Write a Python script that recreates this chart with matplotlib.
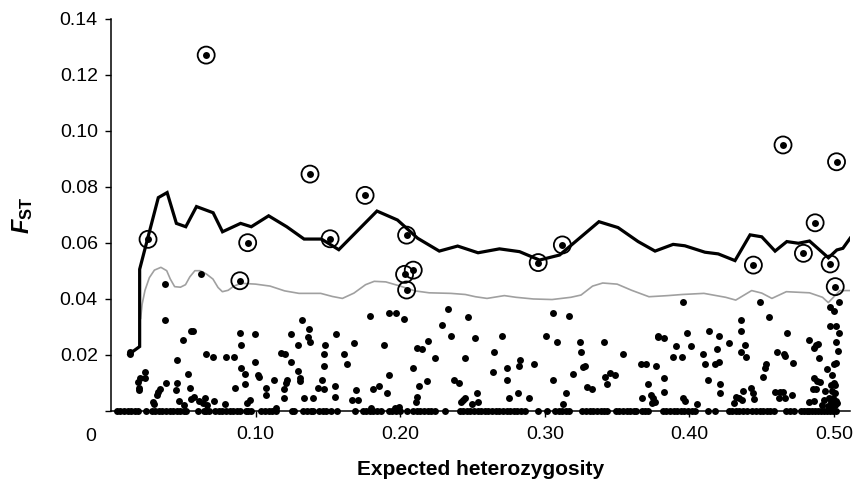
import matplotlib
matplotlib.use("Agg")
import matplotlib.pyplot as plt
from matplotlib.transforms import blended_transform_factory

plt.rcParams['font.family'] = ['Liberation Sans', 'DejaVu Sans']
plt.rcParams['mathtext.fontset'] = 'custom'
plt.rcParams['mathtext.it'] = 'Liberation Sans:italic:bold'
plt.rcParams['mathtext.rm'] = 'Liberation Sans:bold'

# ---- data ----
zero_x = [0.004, 0.0065, 0.009, 0.0115, 0.014, 0.0165, 0.019, 0.0245,
          0.028, 0.0305, 0.033, 0.0355, 0.038, 0.0405, 0.043, 0.0455, 0.048, 0.0505, 0.052,
          0.0604, 0.064, 0.066, 0.068,
          0.072, 0.0745, 0.077, 0.0795, 0.082, 0.0845, 0.087, 0.089,
          0.093, 0.095, 0.097, 0.104, 0.1065, 0.109, 0.1115, 0.114, 0.125, 0.1265,
          0.133, 0.1355, 0.138, 0.140, 0.144, 0.1465, 0.149, 0.152, 0.156, 0.169,
          0.174, 0.1765, 0.179, 0.1815, 0.184, 0.1865, 0.192, 0.1945, 0.197, 0.1995, 0.205,
          0.209, 0.2115, 0.214, 0.2165, 0.219, 0.2215, 0.224, 0.231,
          0.241, 0.2435, 0.246, 0.2485, 0.251, 0.2535, 0.256, 0.2585, 0.261, 0.2635, 0.266,
          0.2685, 0.271, 0.2735, 0.276, 0.2785, 0.281, 0.2835, 0.286, 0.295, 0.3015,
          0.307, 0.3095, 0.312, 0.3145, 0.317,
          0.326, 0.3285, 0.331, 0.3335, 0.336, 0.3385, 0.341, 0.343,
          0.349, 0.3515, 0.354, 0.3565, 0.359, 0.3615, 0.363, 0.367, 0.369, 0.371, 0.3817,
          0.384, 0.3865, 0.389, 0.3915, 0.394, 0.3965, 0.399, 0.4015, 0.404, 0.413, 0.418,
          0.427, 0.4295, 0.432, 0.4345, 0.437, 0.440,
          0.443, 0.446, 0.4485, 0.451, 0.4535, 0.456, 0.4585, 0.467, 0.4695, 0.472,
          0.477, 0.479, 0.481, 0.483, 0.485, 0.487, 0.489, 0.491, 0.493, 0.495, 0.497, 0.499, 0.501]

snp_x = [0.0371, 0.0619, 0.0371, 0.0555, 0.0570, 0.0498, 0.0129, 0.0131, 0.0457, 0.0656,
         0.0702, 0.0794, 0.0850, 0.0891, 0.0900, 0.0997, 0.0997, 0.0900, 0.0928, 0.0924,
         0.1018, 0.1020, 0.1071, 0.1071, 0.1127, 0.1177, 0.1201, 0.1247, 0.1247, 0.1219,
         0.1210, 0.1196, 0.1196, 0.0198, 0.0189, 0.0235, 0.0235, 0.0193, 0.0193, 0.0383,
         0.0337, 0.0328, 0.0318, 0.0290, 0.0300, 0.0457, 0.0448, 0.0471, 0.0503, 0.0531,
         0.0545, 0.0554, 0.0572, 0.0607, 0.0633, 0.0651, 0.0665, 0.0711, 0.0785, 0.0859,
         0.0942, 0.0960, 0.1140,
         0.1323, 0.1369, 0.1365, 0.1378, 0.1291, 0.1291, 0.1305, 0.1305, 0.1480, 0.1471,
         0.1471, 0.1462, 0.1430, 0.1471, 0.1337, 0.1397, 0.1559, 0.1550, 0.1550, 0.1610,
         0.1633, 0.1683, 0.1697, 0.1665, 0.1707, 0.1790, 0.1919, 0.1970, 0.2026, 0.1887,
         0.1855, 0.1813, 0.1905, 0.1919, 0.2085, 0.2118, 0.2150, 0.2192, 0.2182, 0.2127,
         0.2118, 0.2109, 0.2243, 0.2289, 0.2331, 0.2353, 0.2469, 0.2515, 0.2450, 0.2372,
         0.2404, 0.2529, 0.2432, 0.2450, 0.2423, 0.2497, 0.1965, 0.1990, 0.1800,
         0.2702, 0.2647, 0.2638, 0.2735, 0.2735, 0.2827, 0.2818, 0.2924, 0.2813, 0.2753,
         0.2892, 0.2541, 0.3058, 0.3169, 0.3007, 0.3081, 0.3058, 0.3146, 0.3123, 0.3243,
         0.3252, 0.3266, 0.3275, 0.3197, 0.3294, 0.3326, 0.3409, 0.3419, 0.3450, 0.3483,
         0.3428, 0.3543, 0.3668, 0.3696, 0.3779, 0.3783, 0.3821, 0.3769, 0.3714, 0.3821,
         0.3672, 0.3737, 0.3751, 0.3760, 0.3741, 0.3821,
         0.3956, 0.4488, 0.5037, 0.4973, 0.4996, 0.4548, 0.4358, 0.4358, 0.3980, 0.4137,
         0.4202, 0.3906, 0.4012, 0.4275, 0.4192, 0.4382, 0.4358, 0.4391, 0.3888, 0.3947,
         0.4096, 0.4106, 0.4178, 0.4202, 0.4127, 0.4211, 0.4211, 0.3956, 0.3966, 0.4053,
         0.4322, 0.4345, 0.4363, 0.4308, 0.4372, 0.4423, 0.4442, 0.4446, 0.4529, 0.4525,
         0.4511, 0.4604, 0.4654, 0.4659, 0.4677, 0.4718, 0.4590, 0.4627, 0.4645, 0.4618,
         0.4659, 0.4710, 0.4825, 0.4872, 0.4890, 0.4858, 0.4899, 0.4954, 0.4996, 0.5015,
         0.4987, 0.5015, 0.4973, 0.5037, 0.5015, 0.5029, 0.4858, 0.4881, 0.4855, 0.4872,
         0.4904, 0.4982, 0.4996, 0.5006, 0.4936, 0.4987, 0.5006, 0.4930, 0.4966, 0.4994,
         0.5010, 0.5020, 0.4980, 0.4826, 0.4858, 0.4918, 0.4955, 0.4980, 0.5003]

snp_y = [0.0454, 0.0487, 0.0324, 0.0285, 0.0285, 0.0251, 0.0209, 0.0201, 0.0180, 0.0203,
         0.0193, 0.0193, 0.0193, 0.0279, 0.0235, 0.0273, 0.0175, 0.0154, 0.0132, 0.0094,
         0.0127, 0.0120, 0.0082, 0.0056, 0.0110, 0.0207, 0.0201, 0.0273, 0.0175, 0.0110,
         0.0098, 0.0078, 0.0044, 0.0116, 0.0104, 0.0137, 0.0116, 0.0082, 0.0075, 0.0099,
         0.0078, 0.0068, 0.0056, 0.0032, 0.0023, 0.0099, 0.0073, 0.0035, 0.0020, 0.0132,
         0.0082, 0.0042, 0.0049, 0.0035, 0.0027, 0.0044, 0.0020, 0.0035, 0.0023, 0.0082,
         0.0026, 0.0038, 0.0011,
         0.0324, 0.0291, 0.0262, 0.0246, 0.0235, 0.0142, 0.0116, 0.0106, 0.0235, 0.0203,
         0.0160, 0.0110, 0.0082, 0.0078, 0.0044, 0.0044, 0.0274, 0.0088, 0.0050, 0.0203,
         0.0166, 0.0241, 0.0073, 0.0038, 0.0038, 0.0339, 0.0350, 0.0350, 0.0327, 0.0235,
         0.0089, 0.0078, 0.0062, 0.0128, 0.0154, 0.0225, 0.0219, 0.0250, 0.0106, 0.0089,
         0.0049, 0.0032, 0.0187, 0.0306, 0.0362, 0.0268, 0.0334, 0.0259, 0.0187, 0.0110,
         0.0100, 0.0062, 0.0038, 0.0044, 0.0032, 0.0023, 0.0009, 0.0014, 0.0010,
         0.0268, 0.0208, 0.0137, 0.0154, 0.0110, 0.0181, 0.0160, 0.0166, 0.0062, 0.0044,
         0.0044, 0.0030, 0.0350, 0.0339, 0.0268, 0.0246, 0.0110, 0.0062, 0.0024, 0.0246,
         0.0208, 0.0157, 0.0161, 0.0132, 0.0085, 0.0078, 0.0246, 0.0121, 0.0133, 0.0128,
         0.0094, 0.0201, 0.0166, 0.0166, 0.0268, 0.0263, 0.0259, 0.0160, 0.0094, 0.0116,
         0.0044, 0.0056, 0.0044, 0.0032, 0.0027, 0.0066,
         0.0387, 0.0387, 0.0387, 0.0371, 0.0356, 0.0334, 0.0323, 0.0285, 0.0279, 0.0285,
         0.0268, 0.0230, 0.0230, 0.0241, 0.0219, 0.0235, 0.0208, 0.0193, 0.0193, 0.0193,
         0.0203, 0.0166, 0.0166, 0.0173, 0.0110, 0.0094, 0.0062, 0.0044, 0.0035, 0.0023,
         0.0050, 0.0044, 0.0038, 0.0026, 0.0070, 0.0082, 0.0062, 0.0042, 0.0166, 0.0151,
         0.0121, 0.0208, 0.0204, 0.0196, 0.0279, 0.0170, 0.0068, 0.0068, 0.0068, 0.0046,
         0.0044, 0.0056, 0.0251, 0.0235, 0.0237, 0.0225, 0.0187, 0.0149, 0.0168, 0.0170,
         0.0128, 0.0302, 0.0302, 0.0279, 0.0246, 0.0213, 0.0116, 0.0106, 0.0078, 0.0078,
         0.0101, 0.0092, 0.0098, 0.0092, 0.0070, 0.0070, 0.0062, 0.0038, 0.0044, 0.0044,
         0.0035, 0.0028, 0.0030, 0.0030, 0.0035, 0.0020, 0.0017, 0.0012, 0.0020]

outlier_x = [0.0256, 0.0658, 0.0891, 0.0945, 0.1376, 0.1515, 0.1757, 0.2044, 0.2030, 0.2090,
             0.2044, 0.2954, 0.3121, 0.4442, 0.4647, 0.4788, 0.4869, 0.4973, 0.5017, 0.5008]
outlier_y = [0.0612, 0.1270, 0.0464, 0.0600, 0.0845, 0.0614, 0.0769, 0.0627, 0.0487, 0.0502,
             0.0431, 0.0529, 0.0592, 0.0520, 0.0949, 0.0562, 0.0671, 0.0524, 0.0889, 0.0443]

upper_x = [0.0123, 0.0198, 0.0198, 0.0327, 0.0388, 0.0452, 0.0517, 0.0591, 0.0706, 0.0771,
           0.0896, 0.0970, 0.1090, 0.1215, 0.1335, 0.1455, 0.1575, 0.1839, 0.1981, 0.2120,
           0.2270, 0.2397, 0.2538, 0.2686, 0.2825, 0.2963, 0.3102, 0.3374, 0.3506, 0.3645,
           0.3762, 0.3887, 0.3968, 0.4107, 0.4199, 0.4315, 0.4419, 0.4500, 0.4592, 0.4673,
           0.4753, 0.4830, 0.4961, 0.5019, 0.5061, 0.5111]
upper_y = [0.0201, 0.0229, 0.0505, 0.0761, 0.0779, 0.0669, 0.0657, 0.0729, 0.0707, 0.0639,
           0.0669, 0.0657, 0.0696, 0.0657, 0.0613, 0.0613, 0.0575, 0.0713, 0.0681, 0.0616,
           0.0570, 0.0588, 0.0564, 0.0578, 0.0568, 0.0538, 0.0556, 0.0675, 0.0654, 0.0604,
           0.0570, 0.0594, 0.0589, 0.0566, 0.0560, 0.0536, 0.0628, 0.0621, 0.0570, 0.0604,
           0.0598, 0.0606, 0.0546, 0.0574, 0.0580, 0.0616]

median_x = [0.0205, 0.0215, 0.0235, 0.0265, 0.0300, 0.0345, 0.0385, 0.0410, 0.0440, 0.0480,
            0.0515, 0.0545, 0.0580, 0.0615, 0.0660, 0.0705, 0.0740, 0.0770, 0.0810, 0.0850,
            0.0900, 0.1000, 0.1100, 0.1200, 0.1300, 0.1450, 0.1530, 0.1600, 0.1680, 0.1760,
            0.1820, 0.1900, 0.2000, 0.2100, 0.2200, 0.2350, 0.2450, 0.2520, 0.2600, 0.2720,
            0.2800, 0.2920, 0.3050, 0.3180, 0.3250, 0.3330, 0.3400, 0.3500, 0.3600, 0.3720,
            0.3850, 0.3950, 0.4100, 0.4250, 0.4320, 0.4430, 0.4500, 0.4570, 0.4670, 0.4830,
            0.4920, 0.4960, 0.5040, 0.5120]
median_y = [0.0330, 0.0380, 0.0430, 0.0475, 0.0502, 0.0512, 0.0500, 0.0470, 0.0443, 0.0441,
            0.0450, 0.0478, 0.0500, 0.0500, 0.0488, 0.0470, 0.0440, 0.0425, 0.0430, 0.0445,
            0.0455, 0.0452, 0.0445, 0.0428, 0.0419, 0.0419, 0.0408, 0.0401, 0.0420, 0.0450,
            0.0462, 0.0460, 0.0445, 0.0428, 0.0421, 0.0419, 0.0415, 0.0407, 0.0401, 0.0411,
            0.0405, 0.0399, 0.0397, 0.0405, 0.0413, 0.0445, 0.0456, 0.0452, 0.0430, 0.0407,
            0.0411, 0.0415, 0.0419, 0.0405, 0.0395, 0.0429, 0.0420, 0.0401, 0.0425, 0.0421,
            0.0405, 0.0386, 0.0429, 0.0429]

x_ticks = [0.10, 0.20, 0.30, 0.40, 0.50]
x_tick_labels = ['0.10', '0.20', '0.30', '0.40', '0.50']
y_ticks = [0, 0.02, 0.04, 0.06, 0.08, 0.10, 0.12, 0.14]
y_tick_labels = ['', '0.02', '0.04', '0.06', '0.08', '0.10', '0.12', '0.14']

# ---- figure ----
fig = plt.figure(figsize=(8.54, 4.87), dpi=100)
ax = fig.add_axes([0.130, 0.1567, 0.8653, 0.8049])
ax.set_xlim(0, 0.511)
ax.set_ylim(0, 0.14)

ax.plot(median_x, median_y, color='#a0a0a0', lw=1.2, zorder=2)
ax.plot(upper_x, upper_y, color='black', lw=2.3, zorder=3, solid_joinstyle='miter')

dot_s = 25
ax.scatter(zero_x, [0.0] * len(zero_x), s=dot_s, color='black', linewidths=0, zorder=4, clip_on=False)
ax.scatter(snp_x, snp_y, s=dot_s, color='black', linewidths=0, zorder=4, clip_on=False)
ax.scatter(outlier_x, outlier_y, s=dot_s, color='black', linewidths=0, zorder=5, clip_on=False)
ax.scatter(outlier_x, outlier_y, s=150, facecolors='none', edgecolors='black', linewidths=1.3,
           zorder=5, clip_on=False)

for side in ['top', 'right']:
    ax.spines[side].set_visible(False)
for side in ['left', 'bottom']:
    ax.spines[side].set_linewidth(1.1)

ax.set_xticks(x_ticks)
ax.set_xticklabels(x_tick_labels)
ax.set_yticks(y_ticks)
ax.set_yticklabels(y_tick_labels)
ax.tick_params(axis='both', direction='out', length=4.5, width=1.0, labelsize=14, color='black')
ax.tick_params(axis='x', pad=6.5)
ax.tick_params(axis='y', pad=5)

trans = blended_transform_factory(ax.transData, ax.transAxes)
ax.text(-0.0139, -0.066, '0', transform=trans, ha='center', va='center', fontsize=14)

ax.set_xlabel('Expected heterozygosity', fontsize=15, fontweight='bold', labelpad=12)
fig.text(0.026, 0.558, r'$F_{\mathrm{ST}}$', rotation=90, ha='center', va='center', fontsize=17)

fig.savefig('out.png', dpi=100)
